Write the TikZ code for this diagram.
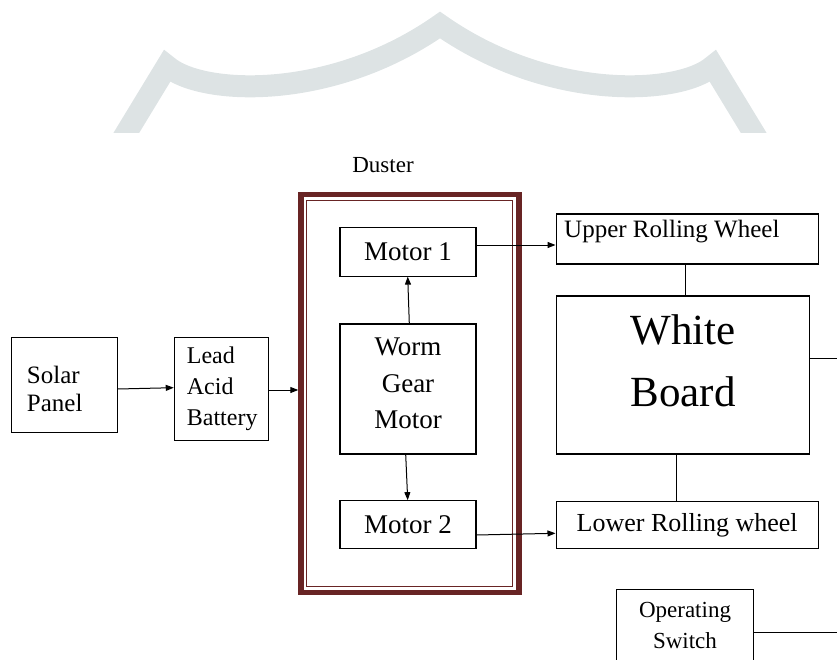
\documentclass[tikz,border=0pt]{standalone}
\usepackage{fontspec}
\setmainfont{Liberation Serif}
\usetikzlibrary{arrows.meta,calc}
\definecolor{frameRed}{RGB}{104,36,36}
\definecolor{wmark}{RGB}{221,227,228}
\begin{document}
\begin{tikzpicture}[x=1pt,y=-1pt,
  box/.style={draw=black,line width=1.1pt,inner sep=0pt},
  arr/.style={-{Triangle[length=8pt,width=6pt]},line width=1pt},
  con/.style={line width=1pt},
  lbl/.style={inner sep=0pt,font=\fontsize{25}{30}\selectfont}
]
\useasboundingbox (0,0) rectangle (837,660);
\clip (0,0) rectangle (837,660);
% watermark
\begin{scope}
\clip (0,0) rectangle (837,133);
\draw[wmark,line width=22pt,line join=miter,miter limit=10]
  (108,163) -- (167,66) .. controls (200,95) and (330,102) .. (440,25)
  .. controls (550,102) and (680,95) .. (713,66) -- (772,163);
\end{scope}
% duster frame
\node[draw=frameRed,line width=5.5pt,inner sep=0pt,minimum width=218pt,minimum height=398pt] (duster) at (410,393.5) {};
\node[draw=frameRed,line width=1.3pt,inner sep=0pt,minimum width=206pt,minimum height=386pt] (dusterin) at (409.5,393.5) {};
\node[lbl,font=\fontsize{23}{28}\selectfont] (dlabel) at (383,165) {Duster};
% left boxes
\node[box,minimum width=105.6pt,minimum height=95.4pt] (solar) at (64.5,385) {};
\node[lbl,anchor=west,align=left,font=\fontsize{25}{28.5}\selectfont] (solart) at (26.7,389) {Solar\\Panel};
\node[box,minimum width=94.4pt,minimum height=103.4pt] (batt) at (221.5,389) {};
\node[lbl,anchor=west,align=left,font=\fontsize{24}{31}\selectfont] (battt) at (186.7,389) {Lead\\Acid\\Battery};
% inner motors
\node[box,lbl,font=\fontsize{27}{32}\selectfont,minimum width=136pt,minimum height=48.7pt] (m1) at (408,251.7) {Motor 1};
\node[box,minimum width=136pt,minimum height=130pt] (wgm) at (408,389) {};
\node[lbl,align=center,font=\fontsize{27}{36.5}\selectfont] (wgmt) at (408,383.5) {Worm\\Gear\\Motor};
\node[box,lbl,font=\fontsize{27}{32}\selectfont,minimum width=136pt,minimum height=47.6pt] (m2) at (408,524.5) {Motor 2};
% right boxes
\node[box,minimum width=262.3pt,minimum height=50pt] (urw) at (687.2,239) {};
\node[lbl,anchor=west] (urwt) at (564,231.7) {Upper Rolling Wheel};
\node[box,minimum width=253.3pt,minimum height=158pt] (wb) at (682.7,375) {};
\node[lbl,align=center,font=\fontsize{43}{61.5}\selectfont] (wbt) at (683,361) {White\\Board};
\node[box,lbl,font=\fontsize{26}{31}\selectfont,minimum width=262.3pt,minimum height=46.6pt] (lrw) at (687.2,525) {Lower Rolling wheel};
\node[box,minimum width=137.3pt,minimum height=74pt] (sw) at (684.7,626.3) {};
\node[lbl,align=center,font=\fontsize{23}{31}\selectfont] (swt) at (685,625.5) {Operating\\Switch};
% connectors
\coordinate (wbout) at (840,358.3);
\coordinate (swout) at (840,632.3);
\draw[arr] ([yshift=-4pt]solar.east) -- ([yshift=1.3pt]batt.west);
\draw[arr] ([yshift=-1pt]batt.east) -- ([yshift=3.5pt]duster.west);
\draw[arr] ([xshift=1.3pt]wgm.north) -- ([xshift=-0.3pt]m1.south);
\draw[arr] ([xshift=-2.3pt]wgm.south) -- ([xshift=-0.3pt]m2.north);
\draw[arr] ([yshift=6.7pt]m1.east) -- ([yshift=-6pt]urw.west);
\draw[arr] ([yshift=-10.5pt]m2.east) -- ([yshift=-8.3pt]lrw.west);
\draw[con] ([xshift=-2.2pt]urw.south) -- ([xshift=2.3pt]wb.north);
\draw[con] ([xshift=-6.7pt]wb.south) -- ([xshift=-11.2pt]lrw.north);
\draw[con] (wbout -| wb.east) -- (wbout);
\draw[con] (swout -| sw.east) -- (swout);
\end{tikzpicture}
\end{document}
